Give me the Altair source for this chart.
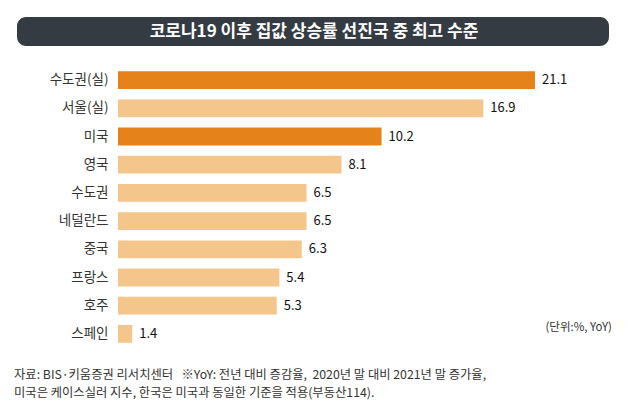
import altair as alt
import pandas as pd

categories = ["수도권(실)", "서울(실)", "미국", "영국", "수도권", "네덜란드", "중국", "프랑스", "호주", "스페인"]
values = [21.1, 16.9, 10.2, 8.1, 6.5, 6.5, 6.3, 5.4, 5.3, 1.4]
highlight = [True, False, True, False, False, False, False, False, False, False]
labels = ["21.1", "16.9", "10.2", "8.1", "6.5", "6.5", "6.3", "5.4", "5.3", "1.4"]

title_text = "코로나19 이후 집값 상승률 선진국 중 최고 수준"
unit_text = "(단위:%, YoY)"
notes = [
    "자료: BIS·키움증권 리서치센터\u00a0\u00a0\u00a0※YoY: 전년 대비 증감율,\u00a0\u00a02020년 말 대비 2021년 말 증가율,",
    "미국은 케이스실러 지수, 한국은 미국과 동일한 기준을 적용(부동산114).",
]

FONT = "Noto Sans CJK KR"
DARK = "#E5821A"
LIGHT = "#F5C68C"

df = pd.DataFrame({"category": categories, "value": values,
                   "hl": ["y" if h else "n" for h in highlight], "label": labels})

W, H = 417, 282

xscale = alt.Scale(type="pow", exponent=0.4, domain=[1.17, 21.1], nice=False, clamp=True, zero=False)
yenc = alt.Y("category:N", sort=categories,
             scale=alt.Scale(paddingInner=0.37, paddingOuter=0.185),
             axis=alt.Axis(title=None, ticks=False, domain=False, labelFont=FONT,
                           labelFontSize=13.5, labelColor="#333333", labelPadding=10))

bars = alt.Chart(df).mark_bar().encode(
    x=alt.X("value:Q", scale=xscale, axis=None),
    x2=alt.datum(0),
    y=yenc,
    color=alt.Color("hl:N", scale=alt.Scale(domain=["y", "n"], range=[DARK, LIGHT]), legend=None),
)

vals = alt.Chart(df).mark_text(align="left", baseline="middle", dx=7, font=FONT,
                               fontSize=13, fontWeight="normal", color="#111111").encode(
    x=alt.X("value:Q", scale=xscale, axis=None),
    y=yenc,
    text="label:N",
)

title_bg = alt.Chart(pd.DataFrame({"t": [title_text]})).mark_rect(
    color="#353B42", cornerRadius=9).encode(
    x=alt.value(-101), x2=alt.value(491), y=alt.value(-49), y2=alt.value(-20))

title = alt.Chart(pd.DataFrame({"t": [title_text]})).mark_text(
    font=FONT, fontSize=17, fontWeight="bold", color="white", align="center", baseline="middle").encode(
    x=alt.value(196), y=alt.value(-34.5), text="t:N")

unit = alt.Chart(pd.DataFrame({"t": [unit_text]})).mark_text(
    font=FONT, fontSize=11.5, color="#333333", align="right", baseline="middle").encode(
    x=alt.value(494), y=alt.value(262), text="t:N")

notes_df = pd.DataFrame({"t": notes, "yy": [309, 327]})
note_marks = alt.Chart(notes_df).mark_text(
    font=FONT, fontSize=12.3, color="#333333", align="left", baseline="middle").encode(
    x=alt.value(-104), y=alt.Y("yy:Q", scale=None), text="t:N")

chart = alt.layer(title_bg, title, bars, vals, unit, note_marks).properties(
    width=W, height=H,
    autosize=alt.AutoSizeParams(type="none"),
    padding={"left": 110, "top": 58, "right": 87, "bottom": 57},
    background="white",
).configure_view(stroke=None)

chart.save("out.html", embed_options={"renderer": "svg", "actions": False})
